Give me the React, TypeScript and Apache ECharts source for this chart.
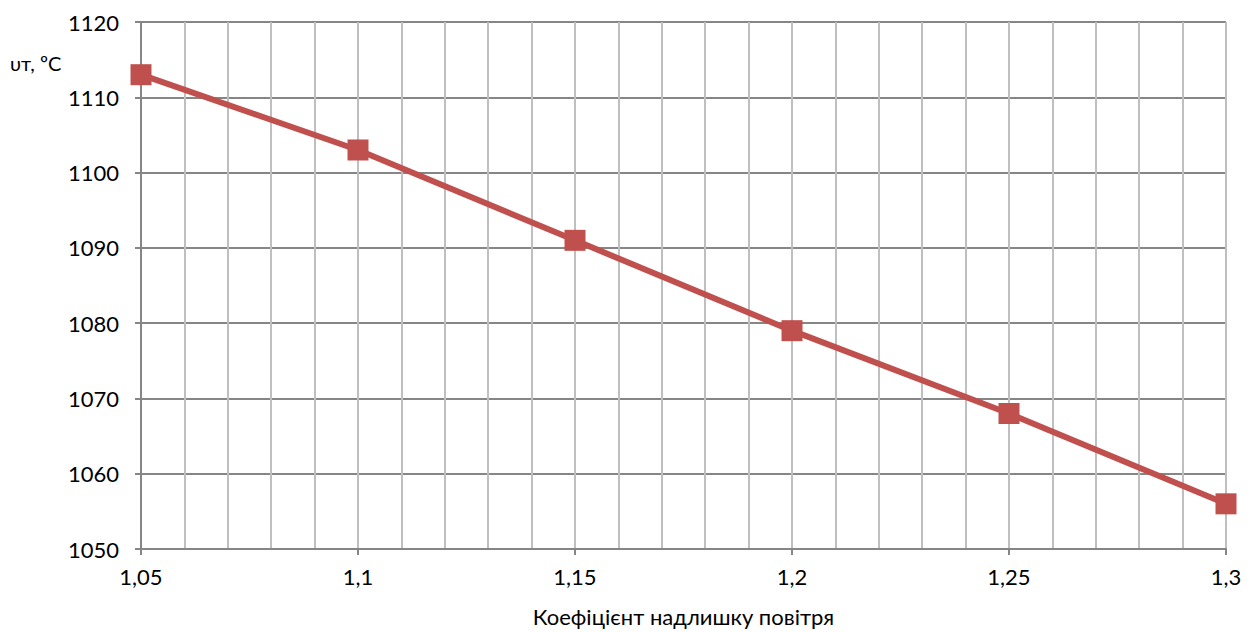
import React, { useEffect, useRef } from "react";
import * as echarts from "echarts";

// Excess air coefficient and the corresponding theoretical combustion temperature
const airExcess = [1.05, 1.1, 1.15, 1.2, 1.25, 1.3];
const temperature = [1113, 1103, 1091, 1079, 1068, 1056];

const yAxisTitle = "υт, ºC";
const xAxisTitle = "Коефіцієнт надлишку повітря";

const FONT = "Lato, 'Noto Sans', sans-serif";

export default function App() {
  const ref = useRef<HTMLDivElement>(null);

  useEffect(() => {
    if (!ref.current) return;
    const chart = echarts.init(ref.current, undefined, { renderer: "svg" });
    chart.setOption({
      animation: false,
      backgroundColor: "#ffffff",
      grid: { left: 141, right: 30, top: 22, bottom: 81, containLabel: false },
      graphic: [
        {
          type: "text",
          left: 10,
          top: 53,
          style: { text: yAxisTitle, font: `20px ${FONT}`, fill: "#000" },
        },
      ],
      xAxis: {
        type: "value",
        min: 1.05,
        max: 1.3,
        interval: 0.05,
        name: xAxisTitle,
        nameLocation: "middle",
        nameGap: 56,
        nameTextStyle: { fontFamily: FONT, fontSize: 22, color: "#000" },
        axisLine: { show: true, lineStyle: { color: "#868686", width: 2 } },
        axisTick: { show: true, length: 6, lineStyle: { color: "#868686", width: 2 } },
        axisLabel: {
          fontFamily: FONT,
          fontSize: 22,
          color: "#000",
          margin: 16,
          formatter: (v: number) => String(Math.round(v * 100) / 100).replace(".", ","),
        },
        splitLine: { show: true, lineStyle: { color: "#bfbfbf", width: 2 } },
        minorTick: { show: false, splitNumber: 5 },
        minorSplitLine: { show: true, lineStyle: { color: "#bfbfbf", width: 2 } },
      },
      yAxis: {
        type: "value",
        min: 1050,
        max: 1120,
        interval: 10,
        axisLine: { show: true, lineStyle: { color: "#868686", width: 2 } },
        axisTick: { show: true, length: 6, lineStyle: { color: "#868686", width: 2 } },
        axisLabel: {
          fontFamily: FONT,
          fontSize: 22,
          color: "#000",
          margin: 22,
          formatter: (v: number) => String(v),
        },
        splitLine: { show: true, lineStyle: { color: "#868686", width: 2 } },
      },
      series: [
        {
          type: "line",
          data: airExcess.map((a, i) => [a, temperature[i]]),
          symbol: "rect",
          symbolSize: 21,
          lineStyle: { color: "#c0504d", width: 6 },
          itemStyle: { color: "#c0504d" },
          z: 5,
        },
      ],
    });
    return () => chart.dispose();
  }, []);

  return (
    <div
      ref={ref}
      style={{ position: "fixed", left: 0, top: 0, width: 1256, height: 632, background: "#fff" }}
    />
  );
}
